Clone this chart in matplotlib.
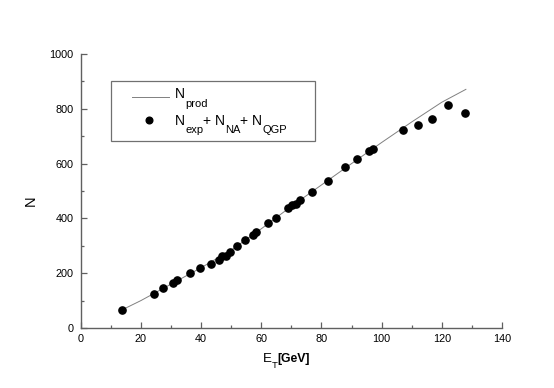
import matplotlib
matplotlib.use("Agg")
import matplotlib.pyplot as plt
from matplotlib.ticker import MultipleLocator
from matplotlib.patches import Rectangle
from matplotlib.lines import Line2D

plt.rcParams['font.family'] = ['Liberation Sans', 'DejaVu Sans']

# Data
et_points = [13.7, 24.5, 27.4, 30.8, 31.9, 36.3, 39.8, 43.4, 45.8, 46.9, 48.3,
             49.5, 52.0, 54.6, 57.1, 58.4, 62.3, 65.0, 68.9, 70.3, 71.7, 72.9,
             77.0, 82.3, 87.8, 91.7, 95.7, 97.2, 107.2, 112.1, 116.6, 122.1, 127.7]
n_points = [66, 124, 145, 163, 175, 202, 219, 233, 248, 264, 264,
            278, 300, 322, 338, 349, 384, 400, 439, 448, 454, 467,
            498, 537, 586, 615, 645, 655, 722, 741, 764, 813, 783]

et_line = [13.7, 20, 30, 40, 50, 60, 70, 80, 90, 100, 110, 120, 128]
n_line = [66, 100, 160, 220, 284, 362, 444, 522, 600, 677, 752, 824, 871]

xticks = [0, 20, 40, 60, 80, 100, 120, 140]
yticks = [0, 200, 400, 600, 800, 1000]

legend_line_label = [('N', 0), ('prod', 1)]
legend_marker_label = [('N', 0), ('exp', 1), ('+ ', 0), ('N', 0), ('NA', 1),
                       ('+ ', 0), ('N', 0), ('QGP', 1)]

W, H = 554, 388
fig = plt.figure(figsize=(W / 100, H / 100), dpi=100)
ax = fig.add_axes([80.7 / W, 1 - 328 / H, (502 - 80.7) / W, (328 - 54) / H])

ax.plot(et_line, n_line, color='#808080', lw=0.7)
ax.plot(et_points, n_points, 'o', color='black', ms=5.2, mec='black')

ax.set_xlim(0, 140)
ax.set_ylim(0, 1000)
ax.set_xticks(xticks)
ax.set_yticks(yticks)
ax.xaxis.set_minor_locator(MultipleLocator(10))
ax.yaxis.set_minor_locator(MultipleLocator(100))

for s in ['top', 'right']:
    ax.spines[s].set_visible(False)
for s in ['left', 'bottom']:
    ax.spines[s].set_color('#606060')
    ax.spines[s].set_linewidth(1.0)

ax.tick_params(which='major', direction='in', length=4, width=0.9,
               color='#606060', labelsize=7.8)
ax.tick_params(axis='y', which='major', pad=5)
ax.tick_params(axis='x', which='major', pad=4.3)
ax.tick_params(which='minor', direction='in', length=2.2, width=0.9, color='#606060')

renderer = fig.canvas.get_renderer()


def fig_xy(px, py):
    return px / W, 1 - py / H


def draw_pieces(px, py, pieces, size, subsize, drop, weight='normal', subweight='normal'):
    x = px
    for txt, is_sub in pieces:
        fs = subsize if is_sub else size
        yy = py + (drop if is_sub else 0)
        t = fig.text(*fig_xy(x, yy), txt, fontsize=fs, ha='left', va='baseline',
                     fontweight=subweight if is_sub else weight)
        bb = t.get_window_extent(renderer)
        x += bb.width
    return x


# axis labels
fig.text(*fig_xy(31, 201), 'N', fontsize=10.5, rotation=90, ha='center', va='center')
xp = draw_pieces(263, 362, [('E', 0)], 9.6, 7, 5)
xp = draw_pieces(xp, 362, [('T', 1)], 9.6, 6.8, 5.5)
draw_pieces(xp - 1, 362, [('[GeV]', 0)], 8.8, 7, 5, weight='bold')

# legend (drawn by hand to match the reference layout)
x0, y0 = fig_xy(111, 141)
x1, y1 = fig_xy(314.5, 81)
fig.patches.append(Rectangle((x0, y0), x1 - x0, y1 - y0, transform=fig.transFigure,
                             fill=False, edgecolor='#707070', lw=0.9))
lx0, ly = fig_xy(131.7, 96.7)
lx1, _ = fig_xy(169, 96.7)
fig.lines.append(Line2D([lx0, lx1], [ly, ly], transform=fig.transFigure,
                        color='#808080', lw=0.7))
mx, my = fig_xy(149, 120)
fig.lines.append(Line2D([mx], [my], transform=fig.transFigure, marker='o',
                        color='black', ms=4.8, ls='none'))
draw_pieces(175, 98, legend_line_label, 10, 8, 9)
draw_pieces(175, 124.8, legend_marker_label, 10, 8, 8)

fig.savefig('out.png', dpi=100)
